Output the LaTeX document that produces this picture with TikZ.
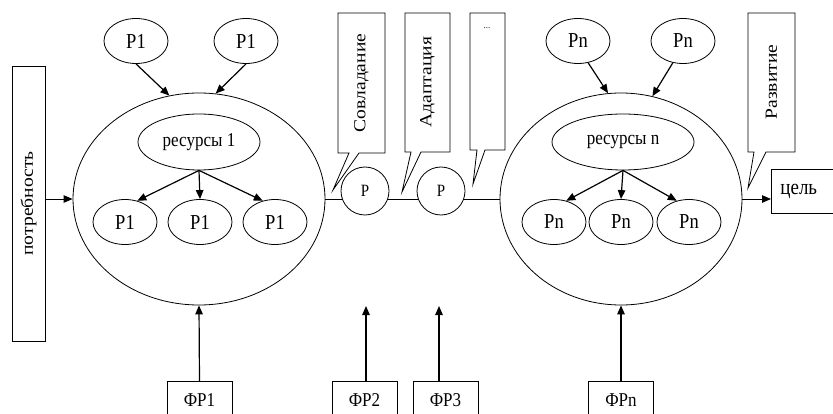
\documentclass[tikz,border=0pt]{standalone}
\usepackage{fontspec}
\setmainfont{Liberation Serif}
\usetikzlibrary{arrows.meta,shapes.geometric}
\newcommand\hs[1]{\scalebox{1}[1.15]{#1}}
\newcommand\vs[1]{\rotatebox{90}{\scalebox{1.15}[1]{#1}}}
\begin{document}
\begin{tikzpicture}[x=1pt,y=-1pt,
  every node/.style={font=\fontsize{17}{20}\selectfont, inner sep=0pt},
  big/.style={draw, ellipse, line width=0.8pt, minimum width=#1, minimum height=212pt},
  res/.style={draw, ellipse, line width=0.8pt, minimum width=#1, minimum height=56pt},
  small/.style={draw, ellipse, line width=0.8pt, minimum width=64pt, minimum height=45pt, font=\fontsize{18.5}{20}\selectfont},
  pcirc/.style={draw, circle, fill=white, line width=0.8pt, minimum size=48pt, font=\fontsize{15}{18}\selectfont},
  boxx/.style={draw, rectangle, line width=0.8pt, fill=white},
  callout/.style={draw, line width=0.8pt, fill=white, line join=miter},
  arr/.style={-{Triangle[length=9pt,width=7.5pt]}, line width=1.2pt},
  thinarr/.style={-{Triangle[length=9pt,width=7.5pt]}, line width=0.8pt},
  conn/.style={line width=0.8pt}
]
\useasboundingbox (0,0) rectangle (833,414);
\clip (0,0) rectangle (833,414);

% big ellipses
\node[big=252pt] (L) at (199,199) {};
\node[big=242pt] (R) at (621,199) {};

% connecting line and P circles
\draw[conn] (L.east) -- (R.west);
\node[pcirc] (pa) at (365,191) {\hs{Р}};
\node[pcirc] (pb) at (441,191) {\hs{Р}};

% left cluster
\node[res=122pt] (res1) at (199,142) {\hs{ресурсы 1}};
\node[small] (a1) at (125,222) {\hs{Р1}};
\node[small] (a2) at (200,222) {\hs{Р1}};
\node[small] (a3) at (275,222) {\hs{Р1}};
\node[small] (t1) at (136,41) {\hs{Р1}};
\node[small] (t2) at (246,41) {\hs{Р1}};
\draw[arr] (res1.south) -- (a1.60);
\draw[arr] (res1.south) -- (a2.north);
\draw[arr] (res1.south) -- (a3.120);
\draw[arr] (t1.south) -- (L.106);
\draw[arr] (t2.south) -- (L.81);

% right cluster
\node[res=142pt] (resn) at (623,142) {\hs{ресурсы n}};
\node[small] (b1) at (554,222) {\hs{Рn}};
\node[small] (b2) at (621,222) {\hs{Рn}};
\node[small] (b3) at (689,222) {\hs{Рn}};
\node[small] (u1) at (578,41) {\hs{Рn}};
\node[small] (u2) at (683,41) {\hs{Рn}};
\draw[arr] (resn.south) -- (b1.60);
\draw[arr] (resn.south) -- (b2.north);
\draw[arr] (resn.south) -- (b3.120);
\draw[arr] (u1.-65) -- (R.97);
\draw[arr] (u2.-115) -- (R.73);

% need box
\node[boxx, minimum width=33pt, minimum height=275pt] (pot) at (28.5,203.5) {\vs{потребность}};
\draw[thinarr] (pot.east |- L.west) -- (L.west);

% goal box
\node[boxx, anchor=west, minimum height=44pt, text width=62pt, inner xsep=9pt, align=left, font=\fontsize{19}{21}\selectfont] (goal) at (771,191) {\hs{цель}};
\draw[thinarr] (R.east) -- (R.east -| goal.west);

% callouts
\draw[callout] (349,153) -- (338,153) -- (338,13) -- (385,13) -- (385,153) -- (359,153) -- (333,190) -- cycle;
\node (c1) at (361.5,83) {\vs{Совладание}};
\draw[callout] (411,152) -- (405,152) -- (405,13) -- (450,13) -- (450,152) -- (421,152) -- (402,192) -- cycle;
\node (c2) at (427.5,82) {\vs{Адаптация}};
\draw[callout] (477,150) -- (470,150) -- (470,13) -- (505,13) -- (505,150) -- (485,150) -- (473,184) -- cycle;
\node[font=\fontsize{9}{10}\selectfont] (c3) at (487,28) {...};
\draw[callout] (754,152) -- (748,152) -- (748,13) -- (795,13) -- (795,152) -- (766,152) -- (748,188) -- cycle;
\node (c4) at (771.5,82) {\vs{Развитие}};

% factor boxes
\node[boxx, anchor=north, minimum width=65pt, minimum height=38pt] (f1) at (199.5,381) {\hs{ФР1}};
\node[boxx, anchor=north, minimum width=65pt, minimum height=38pt] (f2) at (364.5,381) {\hs{ФР2}};
\node[boxx, anchor=north, minimum width=65pt, minimum height=38pt] (f3) at (445.5,381) {\hs{ФР3}};
\node[boxx, anchor=north, minimum width=65pt, minimum height=38pt] (fn) at (621,381) {\hs{ФРn}};
\coordinate (e2) at (366,306);
\coordinate (e3) at (439,306);
\draw[arr] (f1.north) -- (L.south);
\draw[arr] (e2 |- f2.north) -- (e2);
\draw[arr] (e3 |- f3.north) -- (e3);
\draw[arr] (fn.north) -- (R.south);
\end{tikzpicture}
\end{document}
